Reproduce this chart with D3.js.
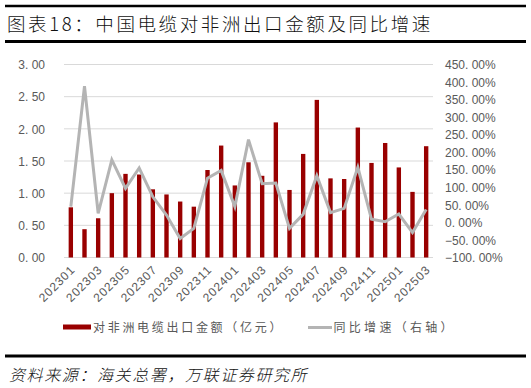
<!DOCTYPE html>
<html>
<head>
<meta charset="utf-8">
<script src="https://cdn.jsdelivr.net/npm/d3@7"></script>
<style>
  html, body { margin: 0; padding: 0; background: #fff; }
  svg { display: block; }
</style>
</head>
<body>
<svg id="chart" width="531" height="388"></svg>
<script>
const months = ["202301","202302","202303","202304","202305","202306","202307","202308","202309","202310","202311","202312",
                "202401","202402","202403","202404","202405","202406","202407","202408","202409","202410","202411","202412",
                "202501","202502","202503"];
const exportValues = [0.78,0.44,0.61,1.00,1.30,1.29,1.06,0.98,0.87,0.79,1.36,1.74,
                      1.12,1.48,1.27,2.10,1.05,1.61,2.45,1.23,1.22,2.02,1.47,1.78,
                      1.40,1.02,1.73];
const yoyValues = [45,388,26,178,97,155,73,21,-46,-17,126,148,
                   45,236,110,112,-17,23,133,28,40,157,9,2,
                   24,-29,37];
const leftTicks = [0,0.5,1,1.5,2,2.5,3];
const rightTicks = [-100,-50,0,50,100,150,200,250,300,350,400,450];
const xLabelMonths = months.filter((d,i) => i % 2 === 0);

const titleText = "图表18：中国电缆对非洲出口金额及同比增速";
const sourceText = "资料来源：海关总署，万联证券研究所";
const legendBar = "对非洲电缆出口金额（亿元）";
const legendLine = "同比增速（右轴）";

const svg = d3.select("#chart");
const cjk = "'Noto Sans CJK SC', 'Noto Sans', sans-serif";
const latin = "'Liberation Sans', Arial, sans-serif";
const gray = "#595959";

// Title block
svg.append("line").attr("x1",5).attr("x2",526).attr("y1",6).attr("y2",6).attr("stroke","#000").attr("stroke-width",2.5);
svg.append("line").attr("x1",5).attr("x2",526).attr("y1",41.5).attr("y2",41.5).attr("stroke","#000").attr("stroke-width",3);
svg.append("text").attr("x",7).attr("y",31).attr("font-family",cjk).attr("font-size",18.5).attr("font-weight",300)
  .attr("letter-spacing",2.6).attr("fill","#111").text(titleText);

const plot = {left:64, right:433, top:64.5, bottom:257.5};

const x = d3.scaleBand().domain(months).range([plot.left, plot.right]).padding(0);
const yL = d3.scaleLinear().domain([0,3]).range([plot.bottom, plot.top]);
const yR = d3.scaleLinear().domain([-100,450]).range([plot.bottom, plot.top]);

// gridlines
svg.append("g").selectAll("line").data(leftTicks).join("line")
  .attr("x1",plot.left).attr("x2",plot.right)
  .attr("y1",d=>yL(d)).attr("y2",d=>yL(d))
  .attr("stroke","#d9d9d9").attr("stroke-width",1);

// left axis
const leftAxis = d3.axisLeft(yL).tickValues(leftTicks).tickSize(0).tickPadding(0)
  .tickFormat(d => d3.format(".2f")(d).replace(".", ". "));
const gL = svg.append("g").attr("transform",`translate(45,0)`).call(leftAxis);
gL.select(".domain").remove();
gL.selectAll("text").attr("font-family",latin).attr("font-size",12).attr("fill",gray).attr("dy","0.35em");

// right axis
const rightAxis = d3.axisRight(yR).tickValues(rightTicks).tickSize(0).tickPadding(0)
  .tickFormat(d => d3.format(".2f")(d).replace(".", ". ") + "%");
const gR = svg.append("g").attr("transform",`translate(445,0)`).call(rightAxis);
gR.select(".domain").remove();
gR.selectAll("text").attr("font-family",latin).attr("font-size",12).attr("fill",gray).attr("dy","0.35em");

// bars
const bw = x.bandwidth()*0.32;
svg.append("g").selectAll("rect").data(months).join("rect")
  .attr("x",(d)=>x(d)+x.bandwidth()/2-bw/2)
  .attr("width",bw)
  .attr("y",(d,i)=>yL(exportValues[i]))
  .attr("height",(d,i)=>yL(0)-yL(exportValues[i]))
  .attr("fill","#990000");

// line
const line = d3.line().x((d,i)=>x(months[i])+x.bandwidth()/2).y(d=>yR(d));
svg.append("path").datum(yoyValues).attr("d",line)
  .attr("fill","none").attr("stroke","#b4b4b4").attr("stroke-width",3).attr("stroke-linejoin","miter");

// x labels
const gX = svg.append("g").attr("transform",`translate(0,${plot.bottom})`)
  .call(d3.axisBottom(x).tickValues(xLabelMonths).tickSize(0).tickPadding(0));
gX.select(".domain").remove();
gX.selectAll("text")
  .attr("font-family",latin).attr("font-size",12).attr("fill",gray).attr("letter-spacing",0.9)
  .attr("text-anchor","end").attr("dy",0).attr("y",0)
  .attr("transform","translate(5,13) rotate(-45)");

// legend
svg.append("rect").attr("x",63).attr("y",324.5).attr("width",28).attr("height",5).attr("fill","#990000");
svg.append("text").attr("x",93).attr("y",331.5).attr("font-family",cjk).attr("font-size",12)
  .attr("letter-spacing",2.7).attr("fill",gray).text(legendBar);
svg.append("line").attr("x1",308).attr("x2",332).attr("y1",327.5).attr("y2",327.5).attr("stroke","#b4b4b4").attr("stroke-width",3);
svg.append("text").attr("x",333.5).attr("y",331.5).attr("font-family",cjk).attr("font-size",12)
  .attr("letter-spacing",3.3).attr("fill",gray).text(legendLine);

// source
svg.append("line").attr("x1",5).attr("x2",526).attr("y1",356).attr("y2",356).attr("stroke","#000").attr("stroke-width",3);
svg.append("text").attr("x",9).attr("y",381).attr("font-family",cjk).attr("font-size",16).attr("font-weight",300)
  .attr("font-style","italic").attr("letter-spacing",1.6).attr("fill","#111").text(sourceText);
</script>
</body>
</html>
